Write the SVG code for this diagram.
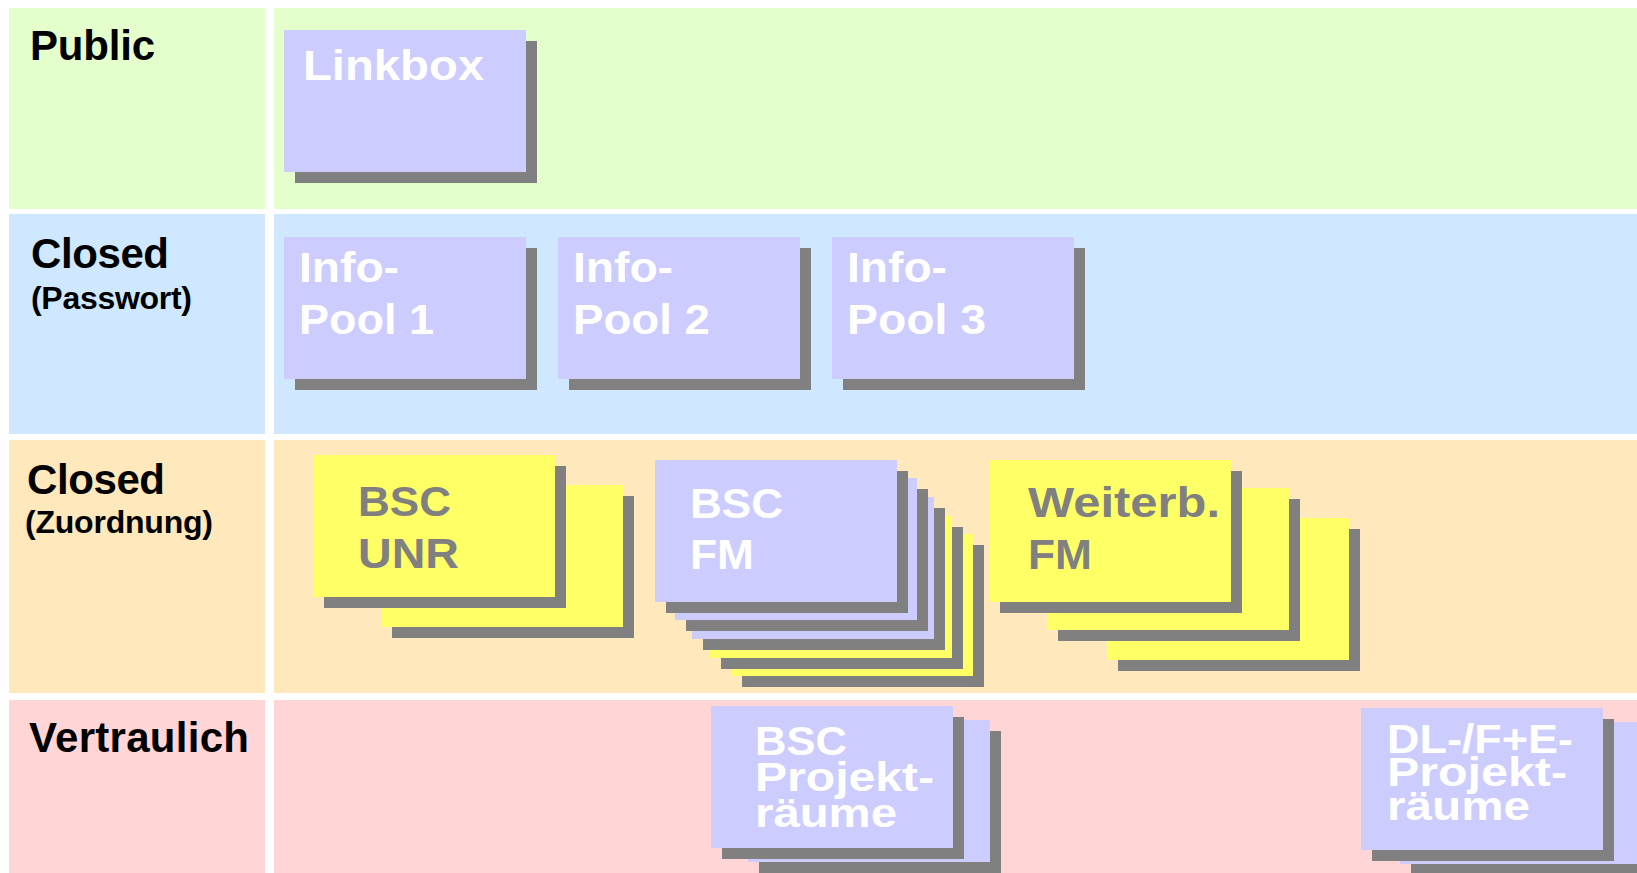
<svg xmlns="http://www.w3.org/2000/svg" width="1637" height="873" viewBox="0 0 1637 873">
<style>
.lbl{font-family:"Liberation Sans",Arial,sans-serif;font-weight:bold;font-size:42px;fill:#000}
.sub{font-family:"Liberation Sans",Arial,sans-serif;font-weight:bold;font-size:32px;fill:#000}
.wt{font-family:"Liberation Sans",Arial,sans-serif;font-weight:bold;font-size:43px;fill:#fff}
.gt{font-family:"Liberation Sans",Arial,sans-serif;font-weight:bold;font-size:43px;fill:#808080}
.sm{font-size:41px}
.sh{fill:#808080}
.lav{fill:#ccccff}
.yel{fill:#ffff66}
</style>
<defs>
<g id="shLav"><rect class="sh" x="11" y="11" width="242" height="142"/><rect class="lav" x="0" y="0" width="242" height="142"/></g>
<g id="shYel"><rect class="sh" x="11" y="11" width="242" height="142"/><rect class="yel" x="0" y="0" width="242" height="142"/></g>
</defs>
<rect width="1637" height="873" fill="#ffffff"/>
<g id="rows">
<rect x="9" y="8" width="256" height="201" fill="#e5ffcc"/>
<rect x="274" y="8" width="1363" height="201" fill="#e5ffcc"/>
<rect x="9" y="214" width="256" height="220" fill="#d0e8ff"/>
<rect x="274" y="214" width="1363" height="220" fill="#d0e8ff"/>
<rect x="9" y="440" width="256" height="253" fill="#ffe8bb"/>
<rect x="274" y="440" width="1363" height="253" fill="#ffe8bb"/>
<rect x="9" y="700" width="256" height="173" fill="#ffd5d5"/>
<rect x="274" y="700" width="1363" height="173" fill="#ffd5d5"/>
</g>
<g id="row-labels">
<text class="lbl" x="30" y="60" textLength="125">Public</text>
<text class="lbl" x="31" y="268" textLength="138">Closed</text>
<text class="sub" x="31" y="309" textLength="161">(Passwort)</text>
<text class="lbl" x="27" y="494" textLength="138">Closed</text>
<text class="sub" x="25" y="533" textLength="188">(Zuordnung)</text>
<text class="lbl" x="29" y="752" textLength="220">Vertraulich</text>
</g>
<g id="linkbox">
<use href="#shLav" x="284" y="30"/>
<text class="wt" x="303" y="80" textLength="181" lengthAdjust="spacingAndGlyphs">Linkbox</text>
</g>
<g id="infopool1">
<use href="#shLav" x="284" y="237"/>
<text class="wt" x="299" y="282" textLength="100" lengthAdjust="spacingAndGlyphs">Info-</text>
<text class="wt" x="299" y="334" textLength="135" lengthAdjust="spacingAndGlyphs">Pool 1</text>
</g>
<g id="infopool2">
<use href="#shLav" x="558" y="237"/>
<text class="wt" x="573" y="282" textLength="100" lengthAdjust="spacingAndGlyphs">Info-</text>
<text class="wt" x="573" y="334" textLength="137" lengthAdjust="spacingAndGlyphs">Pool 2</text>
</g>
<g id="infopool3">
<use href="#shLav" x="832" y="237"/>
<text class="wt" x="847" y="282" textLength="100" lengthAdjust="spacingAndGlyphs">Info-</text>
<text class="wt" x="847" y="334" textLength="139" lengthAdjust="spacingAndGlyphs">Pool 3</text>
</g>
<g id="bsc-unr">
<use href="#shYel" x="381" y="485"/>
<use href="#shYel" x="313" y="455"/>
<text class="gt" x="358" y="516" textLength="93" lengthAdjust="spacingAndGlyphs">BSC</text>
<text class="gt" x="358" y="568" textLength="101" lengthAdjust="spacingAndGlyphs">UNR</text>
</g>
<g id="bsc-fm">
<use href="#shYel" x="731" y="534"/>
<use href="#shYel" x="710" y="516"/>
<use href="#shLav" x="692" y="497"/>
<use href="#shLav" x="675" y="478"/>
<use href="#shLav" x="655" y="460"/>
<text class="wt" x="690" y="518" textLength="93" lengthAdjust="spacingAndGlyphs">BSC</text>
<text class="wt" x="690" y="569" textLength="64" lengthAdjust="spacingAndGlyphs">FM</text>
</g>
<g id="weiterb-fm">
<use href="#shYel" x="1107" y="518"/>
<use href="#shYel" x="1047" y="488"/>
<use href="#shYel" x="989" y="460"/>
<text class="gt" x="1028" y="517" textLength="192" lengthAdjust="spacingAndGlyphs">Weiterb.</text>
<text class="gt" x="1028" y="569" textLength="64" lengthAdjust="spacingAndGlyphs">FM</text>
</g>
<g id="bsc-projektraeume">
<use href="#shLav" x="748" y="720"/>
<use href="#shLav" x="711" y="706"/>
<text class="wt sm" x="755" y="755" textLength="92" lengthAdjust="spacingAndGlyphs">BSC</text>
<text class="wt sm" x="755" y="791" textLength="179" lengthAdjust="spacingAndGlyphs">Projekt-</text>
<text class="wt sm" x="755" y="827" textLength="142" lengthAdjust="spacingAndGlyphs">räume</text>
</g>
<g id="dl-fe-projektraeume">
<use href="#shLav" x="1400" y="722"/>
<use href="#shLav" x="1361" y="708"/>
<text class="wt sm" x="1387" y="753" textLength="186" lengthAdjust="spacingAndGlyphs">DL-/F+E-</text>
<text class="wt sm" x="1387" y="786" textLength="180" lengthAdjust="spacingAndGlyphs">Projekt-</text>
<text class="wt sm" x="1387" y="820" textLength="143" lengthAdjust="spacingAndGlyphs">räume</text>
</g>
<g id="connectors"></g>
</svg>
